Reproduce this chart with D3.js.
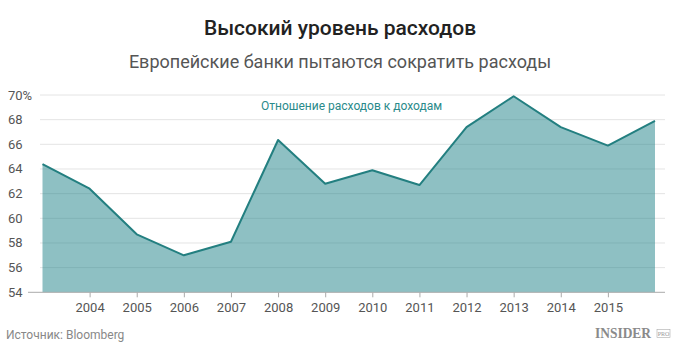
<!DOCTYPE html>
<html>
<head>
<meta charset="utf-8">
<script src="https://cdn.jsdelivr.net/npm/d3@7"></script>
<style>
  body { margin: 0; background: #fff; }
  svg { display: block; font-family: Roboto, "Noto Sans", sans-serif; }
</style>
</head>
<body>
<svg id="chart"></svg>
<script>
// data
var years = [2003, 2004, 2005, 2006, 2007, 2008, 2009, 2010, 2011, 2012, 2013, 2014, 2015, 2016]
var ratio = [64.4, 62.4, 58.7, 57.0, 58.1, 66.35, 62.8, 63.9, 62.7, 67.4, 69.9, 67.4, 65.9, 67.9]
var xTicks = [2004, 2005, 2006, 2007, 2008, 2009, 2010, 2011, 2012, 2013, 2014, 2015]
var yTicks = [54, 56, 58, 60, 62, 64, 66, 68, 70]

var dataset = years.map((y, i) => ({year: y, value: ratio[i]}))

var dims = {
    width: 680,
    height: 351,
    margin: { top: 95, bottom: 58.7, left: 42.5, right: 25 }
}

var svg = d3.select("#chart")
    .attr("width", dims.width)
    .attr("height", dims.height)

var xScale = d3.scaleLinear()
    .domain([2003, 2016])
    .range([dims.margin.left, dims.width - dims.margin.right])
var yScale = d3.scaleLinear()
    .domain([54, 70])
    .range([dims.height - dims.margin.bottom, dims.margin.top])

// titles
svg.append("text")
    .attr("x", 340).attr("y", 35)
    .attr("text-anchor", "middle")
    .attr("font-size", 21).attr("font-weight", 500)
    .attr("fill", "#222")
    .text("Высокий уровень расходов")
svg.append("text")
    .attr("x", 340).attr("y", 68)
    .attr("text-anchor", "middle")
    .attr("font-size", 18)
    .attr("fill", "#555")
    .text("Европейские банки пытаются сократить расходы")

// grid
svg.append("g")
    .selectAll("line")
    .data(yTicks.slice(1))
    .enter()
    .append("line")
    .attr("x1", 40).attr("x2", 665)
    .attr("y1", d => yScale(d)).attr("y2", d => yScale(d))
    .attr("stroke", "#e4e4e4")
    .attr("stroke-width", 1)

// y labels
svg.append("g")
    .selectAll("text")
    .data(yTicks)
    .enter()
    .append("text")
    .attr("x", 8)
    .attr("y", d => yScale(d) + 4.5)
    .attr("font-size", 13)
    .attr("fill", "#555")
    .text(d => d === 70 ? d + "%" : d)

// area + line
var area = d3.area()
    .x(d => xScale(d.year))
    .y0(yScale(54))
    .y1(d => yScale(d.value))
var line = d3.line()
    .x(d => xScale(d.year))
    .y(d => yScale(d.value))

svg.append("path")
    .datum(dataset)
    .attr("d", area)
    .attr("fill", "rgb(30,130,135)")
    .attr("fill-opacity", 0.5)

svg.append("path")
    .datum(dataset)
    .attr("d", line)
    .attr("fill", "none")
    .attr("stroke", "#237f80")
    .attr("stroke-width", 2)
    .attr("stroke-linejoin", "round")

// x axis
var xAxis = svg.append("g")
    .attr("transform", `translate(0, ${yScale(54)})`)
    .call(d3.axisBottom(xScale).tickValues(xTicks).tickFormat(d3.format("d")).tickSize(5).tickSizeOuter(0))
xAxis.select(".domain").remove()
xAxis.append("line")
    .attr("x1", 28).attr("x2", 665)
    .attr("stroke", "#aaa")
xAxis.selectAll(".tick line").attr("stroke", "#aaa")
xAxis.selectAll(".tick text")
    .attr("font-size", 13)
    .attr("font-family", "Roboto, sans-serif")
    .attr("fill", "#555")
    .attr("dy", "0.9em")

// series label
svg.append("text")
    .attr("x", 261).attr("y", 110)
    .attr("font-size", 12)
    .attr("fill", "#2a8a8a")
    .text("Отношение расходов к доходам")

// footer
svg.append("text")
    .attr("x", 6).attr("y", 339)
    .attr("font-size", 12)
    .attr("fill", "#888")
    .text("Источник: Bloomberg")

// logo
svg.append("text")
    .attr("x", 595).attr("y", 338)
    .attr("font-family", "'Liberation Serif', 'DejaVu Serif', serif")
    .attr("font-weight", "bold")
    .attr("font-size", 14)
    .attr("textLength", 56)
    .attr("lengthAdjust", "spacingAndGlyphs")
    .attr("fill", "#8a8a8a")
    .text("INSIDER")
svg.append("rect")
    .attr("x", 657).attr("y", 329.5)
    .attr("width", 13).attr("height", 8)
    .attr("fill", "none")
    .attr("stroke", "#aaa")
    .attr("stroke-width", 0.6)
svg.append("text")
    .attr("x", 663.5).attr("y", 336)
    .attr("text-anchor", "middle")
    .attr("font-family", "'Liberation Serif', serif")
    .attr("font-size", 6)
    .attr("fill", "#999")
    .text("PRO")
</script>
</body>
</html>
